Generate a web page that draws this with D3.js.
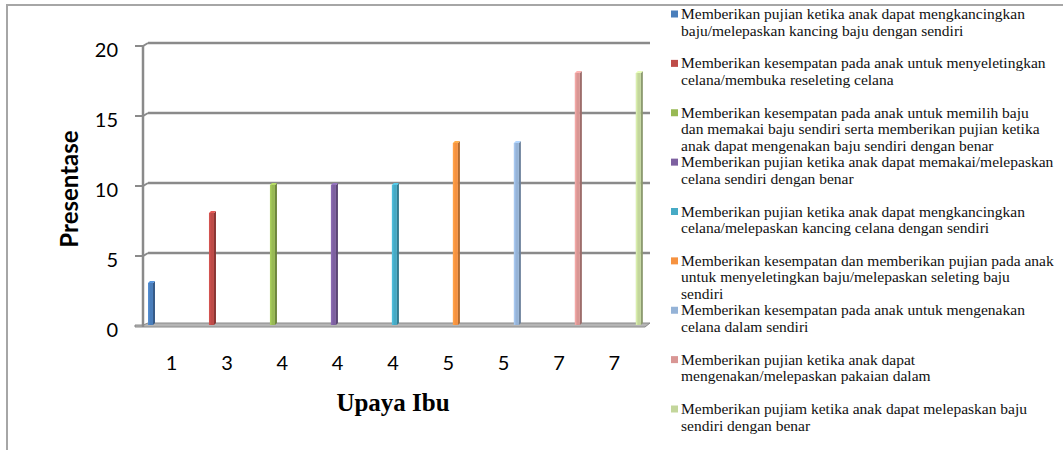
<!DOCTYPE html>
<html><head><meta charset="utf-8">
<script src="https://cdn.jsdelivr.net/npm/d3@7"></script>
<style>html,body{margin:0;padding:0;background:#fff;overflow:hidden}</style>
</head><body><svg id="chart" width="1063" height="450"></svg>
<script>
// Nilai upaya ibu per kategori (presentase)
const categories = ["1","3","4","4","4","5","5","7","7"];
const values = [3, 8, 10, 10, 10, 13, 13, 18, 18];
const seriesNames = [
  "Memberikan pujian ketika anak dapat mengkancingkan\nbaju/melepaskan kancing baju dengan sendiri",
  "Memberikan kesempatan pada anak untuk menyeletingkan\ncelana/membuka reseleting celana",
  "Memberikan kesempatan pada anak untuk memilih baju\ndan memakai baju sendiri serta memberikan pujian ketika\nanak dapat mengenakan baju sendiri dengan benar",
  "Memberikan pujian ketika anak dapat memakai/melepaskan\ncelana sendiri dengan benar",
  "Memberikan pujian ketika anak dapat mengkancingkan\ncelana/melepaskan kancing celana dengan sendiri",
  "Memberikan kesempatan dan memberikan pujian pada anak\nuntuk menyeletingkan baju/melepaskan seleting baju\nsendiri",
  "Memberikan kesempatan pada anak untuk mengenakan\ncelana dalam sendiri",
  "Memberikan pujian ketika anak dapat\nmengenakan/melepaskan pakaian dalam",
  "Memberikan pujiam ketika anak dapat melepaskan baju\nsendiri dengan benar"
];
const yTicks = [0, 5, 10, 15, 20];
const seriesColors = ["#4a7ebb","#be4b48","#98b954","#7d60a0","#46aac5","#f69240","#95b3d7","#d99694","#c3d69b"];

const svg = d3.select("#chart");
const idx = d3.range(categories.length);

// back wall and depth offset of the front edge
const wallL = 148, wallR = 650, depthX = -5, depthY = 3;
const y = d3.scaleLinear().domain([0, 20]).range([323, 43]);
const x0 = d3.scaleBand().domain(idx).range([wallL, wallR]);
const x1 = d3.scaleBand().domain(idx).range([0, x0.bandwidth() * 0.84]);
const xFront = d3.scaleBand().domain(idx).range([144, 642]);

// outer chart border
svg.append("path").attr("d", "M7,450V5H1063")
  .attr("fill", "none").attr("stroke", "#a6a6a6").attr("stroke-width", 2);

const axisCol = "#8a8a8a";

// floor
svg.append("path")
  .attr("d", `M${wallL},${y(0)}H${wallR}L${wallR + depthX},${y(0) + depthY + 1}H${wallL + depthX - 8}V${y(0) + depthY - 1}H${wallL + depthX}Z`)
  .attr("fill", "#b5b5b5").attr("stroke", axisCol).attr("stroke-width", 1);

// gridlines on the back wall with their depth ticks
const grid = svg.append("g");
yTicks.filter(t => t > 0).forEach(t => {
  grid.append("line").attr("x1", wallL).attr("x2", wallR)
    .attr("y1", y(t)).attr("y2", y(t))
    .attr("stroke", axisCol).attr("stroke-width", 2.5);
  grid.append("path")
    .attr("d", `M${wallL + depthX - 8},${y(t) + depthY}H${wallL + depthX}L${wallL},${y(t)}`)
    .attr("fill", "none").attr("stroke", axisCol).attr("stroke-width", 2);
});
// front vertical axis
svg.append("line").attr("x1", wallL + depthX).attr("x2", wallL + depthX)
  .attr("y1", y(20) + depthY).attr("y2", y(0) + depthY + 1)
  .attr("stroke", axisCol).attr("stroke-width", 2.5);

// 3D columns
const bw = 5, bd = 2;
const bars = svg.append("g");
idx.forEach(i => {
  const c = d3.color(seriesColors[i]);
  const left = x0(i) + x1(i);
  const top = y(values[i]);
  const base = y(0) + 2;
  bars.append("path")
    .attr("d", `M${left + bw},${top + bd}L${left + bw + bd},${top}V${base - bd}L${left + bw},${base}Z`)
    .attr("fill", c.darker(0.9));
  bars.append("path")
    .attr("d", `M${left},${top + bd}L${left + bd},${top}H${left + bw + bd}L${left + bw},${top + bd}Z`)
    .attr("fill", c.brighter(0.5));
  bars.append("rect").attr("x", left).attr("y", top + bd)
    .attr("width", bw).attr("height", base - top - bd)
    .attr("fill", c);
  bars.append("rect").attr("x", left).attr("y", top + bd)
    .attr("width", 1.5).attr("height", base - top - bd)
    .attr("fill", c.brighter(0.3));
});

// y tick labels
svg.append("g").selectAll("text").data(yTicks).join("text")
  .attr("x", 118).attr("y", d => y(d) + 6)
  .attr("text-anchor", "end").attr("dominant-baseline", "central")
  .attr("font-family", "Lato, 'Open Sans', sans-serif").attr("font-size", 20)
  .text(d => d);

// category labels
svg.append("g").selectAll("text").data(idx).join("text")
  .attr("x", i => xFront(i) + xFront.bandwidth() / 2).attr("y", 362)
  .attr("text-anchor", "middle").attr("dominant-baseline", "central")
  .attr("font-family", "Lato, 'Open Sans', sans-serif").attr("font-size", 20)
  .text(i => categories[i]);

// axis titles
svg.append("text").attr("transform", "translate(68,189) rotate(-90)")
  .attr("text-anchor", "middle").attr("dominant-baseline", "central")
  .attr("font-family", "Lato, 'Open Sans', sans-serif").attr("font-weight", "bold").attr("font-size", 24)
  .text("Presentase");
svg.append("text").attr("x", 393).attr("y", 402)
  .attr("text-anchor", "middle").attr("dominant-baseline", "central")
  .attr("font-family", "'Liberation Serif', 'Times New Roman', serif").attr("font-weight", "bold").attr("font-size", 25)
  .text("Upaya Ibu");

// legend
const ly = d3.scaleLinear().domain([0, seriesNames.length - 1]).range([14, 409]);
const legend = svg.append("g");
idx.forEach(i => {
  legend.append("rect").attr("x", 671).attr("y", ly(i) - 3.5)
    .attr("width", 7).attr("height", 7).attr("fill", seriesColors[i]);
  const t = legend.append("text").attr("x", 681).attr("y", ly(i) + 5)
    .attr("font-family", "'Liberation Serif', 'Times New Roman', serif").attr("font-size", 15.5)
    .attr("fill", "#111");
  seriesNames[i].split("\n").forEach((line, k) => {
    t.append("tspan").attr("x", 681).attr("dy", k === 0 ? 0 : 16.5).text(line);
  });
});
</script>
</body></html>
